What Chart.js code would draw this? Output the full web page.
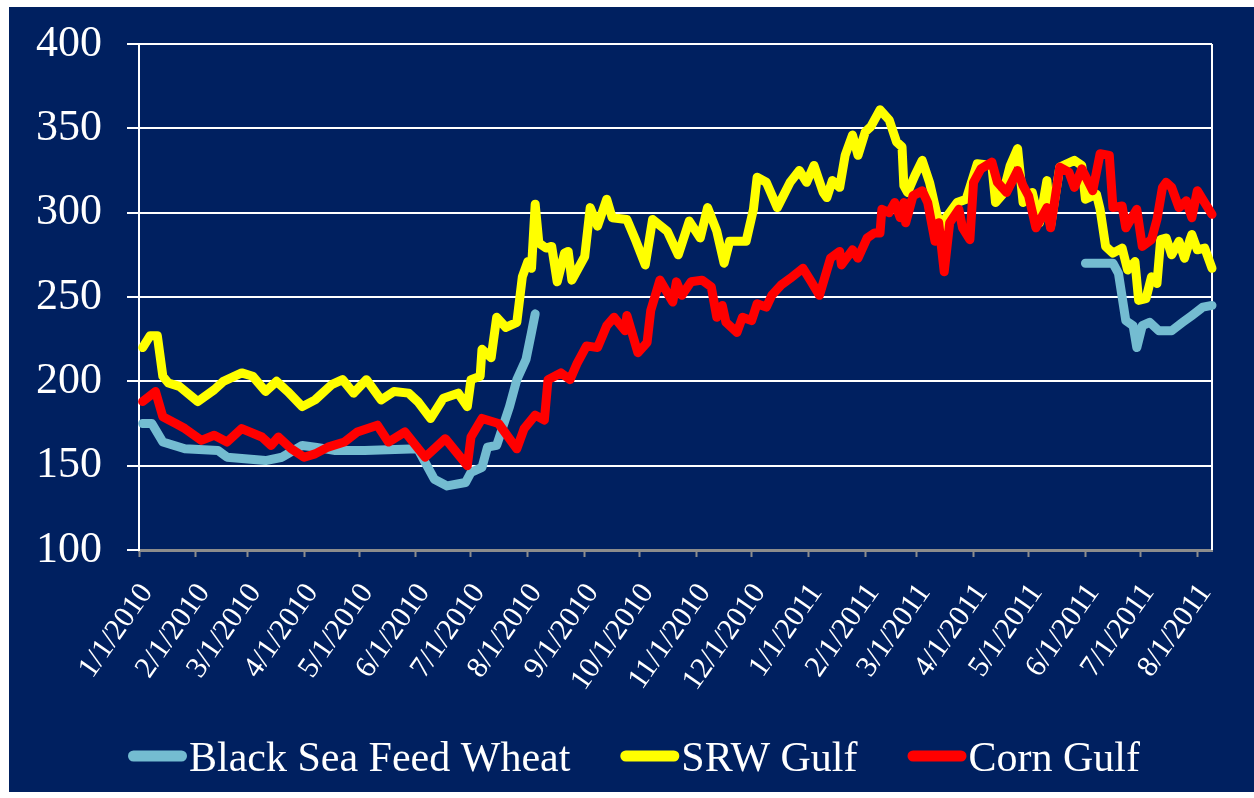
<!DOCTYPE html>
<html><head><meta charset="utf-8">
<script src="https://cdn.jsdelivr.net/npm/chart.js@4"></script>
<style>html,body{margin:0;padding:0;background:#fff}#wrap{width:1254px;height:798px;position:relative}</style>
</head><body><div id="wrap"><canvas id="c"></canvas></div>
<script>
// ---- data (x = days since 1/1/2010) ----
const seriesNames = ['Black Sea Feed Wheat', 'SRW Gulf', 'Corn Gulf'];
const startDate = [2010, 0, 1];
const tickLabels = ['1/1/2010','2/1/2010','3/1/2010','4/1/2010','5/1/2010','6/1/2010','7/1/2010','8/1/2010','9/1/2010','10/1/2010','11/1/2010','12/1/2010','1/1/2011','2/1/2011','3/1/2011','4/1/2011','5/1/2011','6/1/2011','7/1/2011','8/1/2011'];
const yTicks = [100, 150, 200, 250, 300, 350, 400];

const blackSeaDays = [2,7,13,25,43,48,69,78,89,96,107,123,152,156,161,168,178,181,187,190,195,202,206,211,214,216,
  300,
  516,531,534,538,542,544,547,551,556,563,569,574,580,585];
const blackSeaVals = [175,175,164,160,159,155,153,155,162,161,159,159,160,152,142,138,140,146,149,161,162,185,201,213,229,240,
  null,
  270,270,264,236,233,220,233,235,230,230,235,239,244,245];

const srwDays = [2,6,10,13,16,22,32,41,46,56,62,69,75,81,89,96,105,111,117,124,
  132,139,147,152,159,166,174,179,181,186,187,192,195,200,206,209,212,214,216,218,
  222,225,228,232,234,236,243,246,250,255,258,266,271,276,280,288,294,300,306,310,
  315,319,322,331,335,337,342,348,355,360,364,368,373,375,378,382,385,389,392,396,
  399,404,409,413,416,417,419,423,427,431,435,438,440,446,451,457,465,467,471,475,
  479,482,487,491,495,497,502,510,514,516,522,524,527,531,536,539,543,545,549,552,
  555,557,560,563,567,570,573,574,577,581,585];
const srwVals = [220,227,227,203,199,197,188,195,200,205,203,194,200,194,185,189,198,201,193,201,
  189,194,193,188,178,190,193,185,201,203,219,214,238,232,235,262,271,267,305,282,
  279,280,259,276,277,260,274,303,292,308,297,296,283,269,296,289,275,295,285,303,
  289,270,283,283,302,321,318,303,318,325,318,328,312,309,319,315,334,346,334,348,
  351,361,355,342,339,316,312,322,331,318,299,289,297,306,308,329,328,306,311,328,
  338,306,312,294,319,292,327,331,328,308,311,302,280,276,279,266,271,248,249,262,
  258,284,285,275,283,273,284,287,278,279,267];

const cornDays = [2,9,13,20,25,34,41,48,56,67,72,76,83,90,96,103,112,119,130,136,
  145,156,167,179,181,187,196,206,210,216,221,223,230,235,239,244,250,255,259,265,
  266,272,277,279,284,291,293,296,301,307,312,315,318,320,326,329,334,337,342,345,
  350,355,362,366,371,377,382,383,389,392,397,401,404,405,409,412,415,417,418,422,
  427,430,434,436,439,442,447,449,453,455,459,465,468,473,479,482,485,489,495,497,
  502,507,510,514,520,524,529,531,536,538,544,547,552,555,558,560,563,567,571,574,
  577,581,585];
const cornVals = [188,194,179,175,172,165,168,164,172,167,162,167,160,155,157,161,164,170,174,164,
  170,155,166,150,167,178,175,160,172,180,177,201,205,201,211,221,220,233,238,230,
  239,217,223,242,260,247,259,251,259,260,256,238,245,235,229,238,236,246,244,251,
  257,261,267,260,251,273,277,269,278,273,285,288,288,302,300,306,297,306,294,310,
  313,306,283,294,265,294,302,291,284,318,326,330,318,312,325,316,310,291,303,291,
  327,324,315,326,313,335,334,303,304,291,302,280,284,296,315,318,315,303,307,297,
  313,306,299];

const colors = ['#74BCD1', '#FFFF00', '#FF0000'];
const NAVY = '#002060';
const FONT = '"Liberation Serif", "Times New Roman", serif';

function dayOf(label) {
  const [m, d, y] = label.split('/').map(Number);
  return (Date.UTC(y, m - 1, d) - Date.UTC(startDate[0], startDate[1], startDate[2])) / 864e5;
}
const tickDays = tickLabels.map(dayOf);
const toPts = (days, vals) => days.map((d, i) => ({x: d, y: vals[i]}));

const PLOT = {left: 139, right: 1212, top: 44, bottom: 550};

const bgPlugin = {
  id: 'bg',
  beforeDraw(chart) {
    const ctx = chart.ctx;
    ctx.save();
    ctx.fillStyle = '#ffffff';
    ctx.fillRect(0, 0, chart.width, chart.height);
    ctx.fillStyle = NAVY;
    ctx.fillRect(9, 7, chart.width - 9, chart.height - 7 - 6);
    ctx.restore();
  },
  beforeDatasetsDraw(chart) {
    const ctx = chart.ctx, a = chart.chartArea;
    ctx.save();
    ctx.strokeStyle = '#ffffff';
    ctx.lineWidth = 2;
    ctx.beginPath();
    ctx.moveTo(a.right, a.top);
    ctx.lineTo(a.right, a.bottom);
    ctx.stroke();
    ctx.restore();
  },
  afterDraw(chart) {
    const ctx = chart.ctx;
    ctx.save();
    ctx.font = '42px ' + FONT;
    const lineW = 59, gap = 2, itemGap = 50;
    const widths = seriesNames.map(n => ctx.measureText(n).width);
    const total = widths.reduce((s, w) => s + w + lineW + gap, 0) + itemGap * (seriesNames.length - 1);
    let x = 634 - total / 2;
    const yLine = 756, yText = 771;
    seriesNames.forEach((n, i) => {
      ctx.strokeStyle = colors[i];
      ctx.lineWidth = 11;
      ctx.lineCap = 'round';
      ctx.beginPath();
      ctx.moveTo(x + 5.5, yLine);
      ctx.lineTo(x + lineW - 5.5, yLine);
      ctx.stroke();
      ctx.fillStyle = '#ffffff';
      ctx.textBaseline = 'alphabetic';
      ctx.textAlign = 'left';
      ctx.fillText(n, x + lineW + gap, yText);
      x += lineW + gap + widths[i] + itemGap;
    });
    ctx.restore();
  }
};

const mk = (label, data, color, order) => ({
  label, data, borderColor: color, backgroundColor: color,
  borderWidth: 9, pointRadius: 0, tension: 0, spanGaps: false,
  borderCapStyle: 'round', borderJoinStyle: 'round', order, clip: 6
});

new Chart(document.getElementById('c'), {
  type: 'line',
  data: {
    datasets: [
      mk(seriesNames[0], toPts(blackSeaDays, blackSeaVals), colors[0], 3),
      mk(seriesNames[1], toPts(srwDays, srwVals), colors[1], 2),
      mk(seriesNames[2], toPts(cornDays, cornVals), colors[2], 1)
    ]
  },
  options: {
    responsive: true, maintainAspectRatio: false, animation: false,
    devicePixelRatio: 1,
    layout: {padding: {left: 0, top: PLOT.top, right: 1254 - PLOT.right, bottom: 0}},
    plugins: {legend: {display: false}, tooltip: {enabled: false}},
    scales: {
      x: {
        type: 'linear', min: 0, max: 585,
        afterBuildTicks(scale) { scale.ticks = tickDays.map(v => ({value: v})); },
        afterFit(scale) {
          scale.height = 798 - PLOT.bottom;
          scale.paddingLeft = 0; scale.paddingRight = 0;
        },
        grid: {drawOnChartArea: false, drawTicks: true, tickLength: 7, tickColor: '#8c8c8c', tickWidth: 2},
        border: {display: true, color: '#8c8c8c', width: 3},
        ticks: {
          autoSkip: false, maxRotation: 55, minRotation: 55, padding: 20, labelOffset: 8,
          color: '#ffffff', font: {family: FONT, size: 30},
          callback: (v, i) => tickLabels[i]
        }
      },
      y: {
        min: 100, max: 400,
        afterBuildTicks(scale) { scale.ticks = yTicks.map(v => ({value: v})); },
        afterFit(scale) {
          scale.width = PLOT.left;
          scale.paddingTop = 0; scale.paddingBottom = 0;
        },
        grid: {
          color: c => (c.tick && c.tick.value === 100) ? 'rgba(0,0,0,0)' : '#ffffff',
          tickColor: '#ffffff', lineWidth: 2, tickLength: 12
        },
        border: {display: true, color: '#ffffff', width: 2},
        ticks: {padding: 25, color: '#ffffff', font: {family: FONT, size: 44}}
      }
    }
  },
  plugins: [bgPlugin]
});
</script>
</body></html>
